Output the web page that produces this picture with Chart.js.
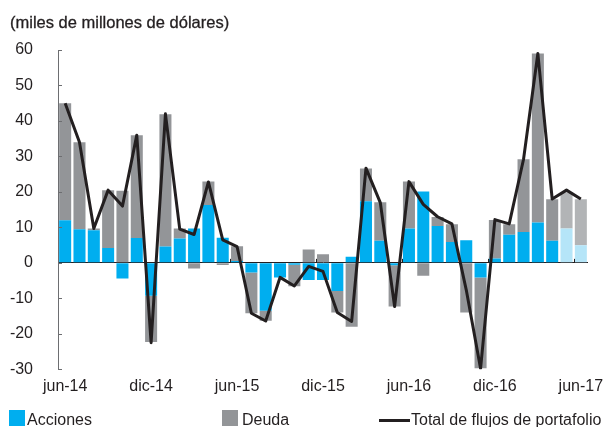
<!DOCTYPE html>
<html>
<head>
<meta charset="utf-8">
<script src="https://cdn.jsdelivr.net/npm/chart.js@4/dist/chart.umd.min.js"></script>
<style>
  html, body { margin: 0; padding: 0; background: #fff; }
  #wrap { position: relative; width: 612px; height: 427px; overflow: hidden; font-family: "Liberation Sans", Arial, Helvetica, sans-serif; color: #231f20; }
  #c { position: absolute; left: 0; top: 0; }
  .t { position: absolute; font-size: 16px; line-height: 16px; white-space: nowrap; }
  .sw { position: absolute; width: 16px; height: 16px; }
  .ln { position: absolute; height: 3px; background: #231f20; }
</style>
</head>
<body>
<div id="wrap">
  <canvas id="c" width="612" height="427"></canvas>
  <div class="t" style="left:10px; top:14px; font-size:16.5px; -webkit-text-stroke:0.3px #231f20;">(miles de millones de dólares)</div>
  <div class="sw" style="left:9px; top:410px; background:#00aeef;"></div>
  <div class="t" style="left:27px; top:411.5px;">Acciones</div>
  <div class="sw" style="left:222px; top:410px; background:#939598;"></div>
  <div class="t" style="left:242px; top:411.5px;">Deuda</div>
  <div class="ln" style="left:379px; top:419px; width:31px;"></div>
  <div class="t" style="left:411px; top:411.5px;">Total de flujos de portafolio</div>
</div>
<script>
const months = ["jun-14","jul-14","ago-14","sep-14","oct-14","nov-14","dic-14","ene-15","feb-15","mar-15","abr-15","may-15",
  "jun-15","jul-15","ago-15","sep-15","oct-15","nov-15","dic-15","ene-16","feb-16","mar-16","abr-16","may-16",
  "jun-16","jul-16","ago-16","sep-16","oct-16","nov-16","dic-16","ene-17","feb-17","mar-17","abr-17","may-17","jun-17"];
const acciones = [12, 9.5, 9.2, 4.2, -4.4, 7, -9.3, 4.6, 6.9, 9.7, 16.3, 7.1,
  0.5, -2.7, -13.5, -4.1, -0.5, -4.8, -4.8, -7.9, 1.7, 17.4, 6.2, -0.7,
  9.7, 20.1, 10.4, 5.9, 6.4, -4.1, 1.2, 7.9, 8.7, 11.4, 6.2, 9.7, 5];
const deuda = [33, 24.5, 0.5, 16.3, 20.3, 29, -13, 37.3, 2.8, -1.6, 6.6, -0.6,
  4.2, -11.5, -2.8, 0, -6.1, 3.8, 2.4, -6.1, -18, 9.2, 10.9, -11.6,
  13.2, -3.6, 2.5, 5, -14, -25.6, 10.9, 3, 20.5, 47.6, 11.7, 10.2, 12.9];
const total = [45, 34, 9.7, 20.5, 16, 36, -22.5, 42, 9.5, 8, 22.8, 6.5,
  4.6, -14.2, -16.4, -4.1, -6.5, -1, -2.4, -14, -16.5, 26.7, 17, -12.3,
  22.9, 16.5, 13, 11, -7.6, -29.8, 12.2, 11, 29.2, 59, 18, 20.5, 18];
const preliminary = [35, 36]; // indices drawn in lighter colours
const yTicks = [-30, -20, -10, 0, 10, 20, 30, 40, 50, 60];
const tickMonths = ["jun-14","dic-14","jun-15","dic-15","jun-16","dic-16","jun-17"];

const blue = months.map((m, i) => preliminary.includes(i) ? '#b5e5f8' : '#00aeef');
const gray = months.map((m, i) => preliminary.includes(i) ? '#b2b4b6' : '#939598');
const ink = '#231f20';
const FONT = { family: '"Liberation Sans", Arial, Helvetica, sans-serif', size: 16 };

const extras = {
  id: 'extras',
  afterDatasetsDraw(chart) {
    const { ctx } = chart;
    const x = chart.scales.x, y = chart.scales.y;
    const y0 = y.getPixelForValue(0);
    ctx.save();
    ctx.strokeStyle = '#6d6e71';
    ctx.lineWidth = 1;
    yTicks.forEach(v => {
      const py = Math.round(y.getPixelForValue(v)) + 0.5;
      ctx.beginPath();
      ctx.moveTo(chart.chartArea.left, py);
      ctx.lineTo(chart.chartArea.left + 4, py);
      ctx.stroke();
    });
    ctx.strokeStyle = '#231f20';
    months.forEach((m, i) => {
      if (i > 0 && tickMonths.includes(m)) {
        const px = Math.round((x.getPixelForValue(i - 1) + x.getPixelForValue(i)) / 2) + 0.5;
        ctx.beginPath();
        ctx.moveTo(px, y0);
        ctx.lineTo(px, y0 - 4);
        ctx.stroke();
      }
    });
    ctx.restore();
  }
};

new Chart(document.getElementById('c'), {
  data: {
    labels: months,
    datasets: [
      { type: 'line', label: 'Total de flujos de portafolio', data: total, borderColor: ink, borderWidth: 3,
        pointRadius: 0, tension: 0, fill: false, order: 0, borderJoinStyle: 'round', borderCapStyle: 'butt' },
      { type: 'bar', label: 'Acciones', data: acciones, backgroundColor: blue, stack: 's', order: 1,
        barPercentage: 0.84, categoryPercentage: 1 },
      { type: 'bar', label: 'Deuda', data: deuda, backgroundColor: gray, stack: 's', order: 2,
        barPercentage: 0.84, categoryPercentage: 1 }
    ]
  },
  options: {
    responsive: false,
    animation: false,
    layout: { padding: { left: 0, right: 24, top: 50, bottom: 0 } },
    plugins: { legend: { display: false }, title: { display: false }, tooltip: { enabled: false } },
    scales: {
      x: {
        stacked: true,
        grid: { display: false, drawTicks: false },
        border: { display: false },
        ticks: {
          autoSkip: false, maxRotation: 0, minRotation: 0, padding: 8,
          color: ink, font: FONT,
          callback: function(v, i) { return tickMonths.includes(months[i]) ? months[i] : ''; }
        },
        afterFit(scale) { scale.height = 57.7; }
      },
      y: {
        stacked: true,
        min: -30, max: 60,
        grid: {
          drawTicks: false,
          color: ctx => (ctx.tick && ctx.tick.value === 0) ? '#231f20' : 'rgba(0,0,0,0)',
          lineWidth: 1
        },
        border: { display: true, color: '#6d6e71', width: 1 },
        ticks: { stepSize: 10, padding: 25, color: ink, font: FONT },
        afterFit(scale) { scale.width = 58; }
      }
    }
  },
  plugins: [extras]
});
</script>
</body>
</html>
